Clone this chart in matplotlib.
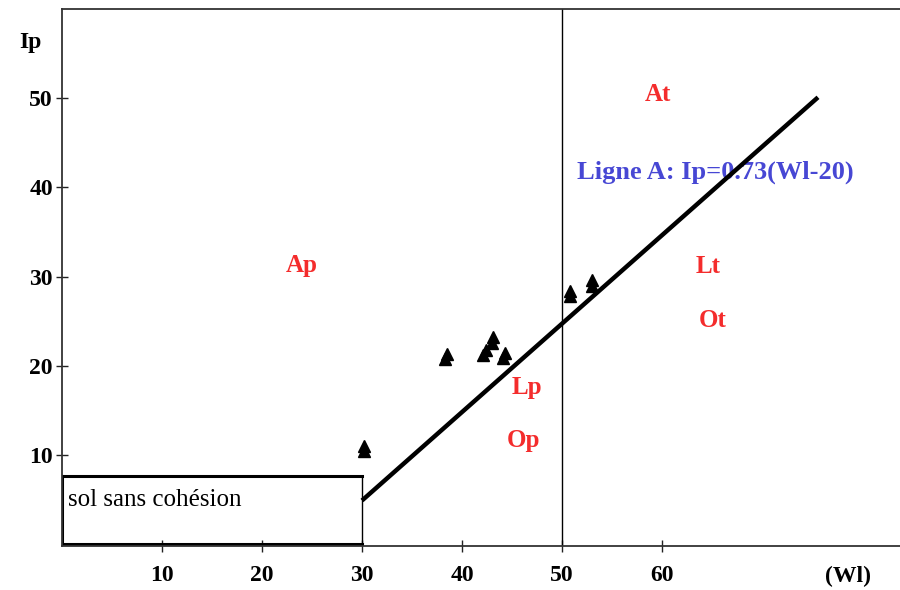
import matplotlib
matplotlib.use("Agg")
import matplotlib.pyplot as plt

# ── data ────────────────────────────────────────────────────────────────────
sample_wl = [30.2, 30.2, 38.3, 38.5, 42.1, 42.4, 43.0, 43.1, 44.1, 44.3, 50.8, 50.8, 53.0, 53.0]
sample_ip = [10.4, 11.0, 20.8, 21.3, 21.2, 21.8, 22.6, 23.2, 20.9, 21.4, 27.8, 28.4, 28.9, 29.6]

line_a_wl = [30.0, 75.6]
line_a_ip = [4.9, 50.1]

wl_limit = 50          # vertical separator
box_wl = [0, 30]       # "sol sans cohésion" zone
box_ip = [0, 7.7]

x_ticks = [10, 20, 30, 40, 50, 60]
y_ticks = [10, 20, 30, 40, 50]

zone_labels = ["At", "Ap", "Lt", "Ot", "Lp", "Op"]
zone_wl = [59.6, 24.0, 64.6, 65.1, 46.5, 46.2]
zone_ip = [50.4, 31.3, 31.1, 25.1, 17.6, 11.6]

SERIF = ["Liberation Serif", "DejaVu Serif"]
RED = "#f42c2c"
BLUE = "#4747d4"

fig = plt.figure(figsize=(9, 5.9), dpi=100)
ax = fig.add_axes([62 / 900, 44 / 590, 838 / 900, 537 / 590])

ax.set_xlim(0, 83.8)
ax.set_ylim(-0.2, 60)

# frame
for side in ("left", "top", "bottom"):
    ax.spines[side].set_linewidth(1.3)
    ax.spines[side].set_color("#333333")
ax.spines["right"].set_visible(False)

# separator at Wl = 50
ax.plot([wl_limit, wl_limit], [-0.2, 60], color="black", lw=1.0)

# cohesionless soil box
ax.plot([box_wl[0], box_wl[1]], [box_ip[1], box_ip[1]], color="black", lw=2.2)
ax.plot([box_wl[0], box_wl[0]], box_ip, color="black", lw=2.2)
ax.plot([box_wl[1], box_wl[1]], box_ip, color="black", lw=1.0)
ax.plot(box_wl, [box_ip[0], box_ip[0]], color="black", lw=2.2)
ax.text(0.6, 5.0, "sol sans cohésion", family=SERIF, fontsize=18,
        ha="left", va="center", color="black")

# A-line
ax.plot(line_a_wl, line_a_ip, color="black", lw=3.2, solid_capstyle="butt", zorder=4)

# samples
ax.plot(sample_wl, sample_ip, linestyle="none", marker="^", markersize=9,
        color="black", zorder=5)

# zone labels
for lab, x, y in zip(zone_labels, zone_wl, zone_ip):
    ax.text(x, y, lab, family=SERIF, fontsize=18, fontweight="bold",
            color=RED, ha="center", va="center")

ax.text(51.5, 41.7, "Ligne A: Ip=0.73(Wl-20)", family=SERIF, fontsize=19,
        fontweight="bold", color=BLUE, ha="left", va="center", zorder=3)

# ticks
ax.set_xticks(x_ticks)
ax.set_yticks(y_ticks)
ax.set_xticklabels([str(t) for t in x_ticks])
ax.set_yticklabels([str(t) for t in y_ticks])
ax.tick_params(axis="both", direction="inout", length=9, width=1.0,
               color="#222222", labelsize=17)
ax.tick_params(axis="x", pad=9)
ax.tick_params(axis="y", pad=2)
for lbl in ax.get_xticklabels() + ax.get_yticklabels():
    lbl.set_family(SERIF)
    lbl.set_fontweight("bold")

# axis names
ax.text(-2.0, 56.3, "Ip", family=SERIF, fontsize=17, fontweight="bold",
        ha="right", va="center", clip_on=False)
ax.text(78.6, -3.6, "(Wl)", family=SERIF, fontsize=17, fontweight="bold",
        ha="center", va="center", clip_on=False)

fig.savefig("out.png", dpi=100)
